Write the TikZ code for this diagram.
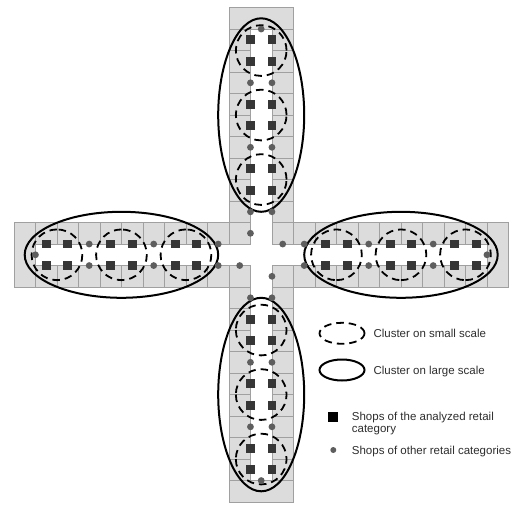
\documentclass[tikz,border=0pt]{standalone}
\usepackage{fontspec}
\setmainfont{Liberation Sans}
\definecolor{cellgrey}{HTML}{DCDCDC}
\definecolor{cellline}{HTML}{A0A0A0}
\definecolor{shopdark}{HTML}{363636}
\definecolor{shopdot}{HTML}{5E5E5E}
\definecolor{txt}{HTML}{2E2E2E}
\begin{document}
\begin{tikzpicture}[x=1pt,y=-1pt,
  cellbox/.style={fill=cellgrey,draw=cellline,line width=0.9pt},
  smallclu/.style={draw=black,line width=1.8pt,dash pattern=on 7.5pt off 5pt},
  largeclu/.style={draw=black,line width=2pt},
  shopsq/.style={fill=shopdark},
  shopdt/.style={fill=shopdot},
  legtext/.style={text=txt,font=\fontsize{11.5}{13}\selectfont,inner sep=0pt}]
\useasboundingbox (0,0) rectangle (513,505);
\fill[white] (0,0) rectangle (513,505);
\begin{scope}[shift={(261.2,254.8)},x=21.5pt,y=21.5pt]
  % shop cells of the four arms
  \foreach \r in {0,90,180,270}{
    \begin{scope}[rotate=\r]
      \foreach \j in {2,...,10}{
        \draw[cellbox] (-1.5,\j-0.5) rectangle (-0.5,\j+0.5);
        \draw[cellbox] (0.5,\j-0.5) rectangle (1.5,\j+0.5);
      }
      \draw[cellbox] (-1.5,10.5) rectangle (1.5,11.5);
    \end{scope}
  }
  % corner cells at the crossing
  \foreach \a/\b in {-1/-1,-1/1,1/-1,1/1}
    \draw[cellbox] (\a-0.5,\b-0.5) rectangle (\a+0.5,\b+0.5);
  % clusters
  \foreach \r in {0,90,180,270}{
    \begin{scope}[rotate=\r]
      \foreach \c in {3.5,6.5,9.5}
        \draw[smallclu] (0,\c) circle [radius=1.18];
      \draw[largeclu] (0,6.5) ellipse [x radius=2, y radius=4.5];
    \end{scope}
  }
  % shops
  \foreach \r in {0,90,180,270}{
    \begin{scope}[rotate=\r]
      \foreach \j in {3,4,6,7,9,10}{
        \fill[shopsq] (-0.5,\j) +(-0.205,-0.205) rectangle +(0.205,0.205);
        \fill[shopsq] (0.5,\j) +(-0.205,-0.205) rectangle +(0.205,0.205);
      }
      \foreach \j in {2,5,8}{
        \fill[shopdt] (-0.5,\j) circle [radius=3.4pt];
        \fill[shopdt] (0.5,\j) circle [radius=3.4pt];
      }
      \fill[shopdt] (0,10.5) circle [radius=3.4pt];
      \fill[shopdt] (-0.5,1) circle [radius=3.4pt];
    \end{scope}
  }
\end{scope}
% legend
\draw[smallclu] (342,333.3) ellipse [x radius=22.5pt, y radius=10.5pt];
\draw[largeclu] (342,370) ellipse [x radius=22.5pt, y radius=10.5pt];
\fill[black] (328.3,411.7) rectangle (338.3,421.7);
\fill[shopdt] (333.3,450) circle [radius=3pt];
\node[legtext,anchor=base west] (lsmall) at (373.3,337.5) {Cluster on small scale};
\node[legtext,anchor=base west] (llarge) at (373.3,374.5) {Cluster on large scale};
\node[legtext,anchor=base west] (lsqa) at (351.7,420) {Shops of the analyzed retail};
\node[legtext,anchor=base west] (lsqb) at (351.7,432.7) {category};
\node[legtext,anchor=base west] (ldot) at (351.7,454) {Shops of other retail categories};
\end{tikzpicture}
\end{document}
